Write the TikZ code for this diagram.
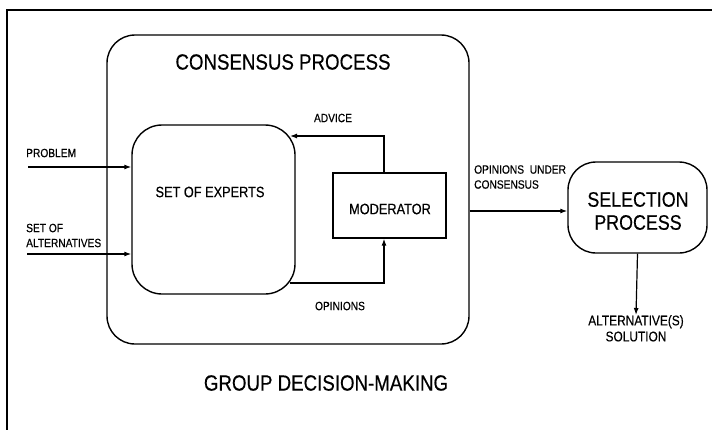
\documentclass[tikz,border=0pt]{standalone}
\usepackage{fontspec}
\setmainfont{Liberation Sans}[FakeStretch=0.85, FakeBold=0.4]
\usetikzlibrary{arrows.meta}
\tikzset{
  box/.style={draw, line width=1.4pt, inner sep=0pt},
  roundbox/.style={box, rounded corners=#1},
  arr/.style={line width=1.2pt, -{Latex[length=7pt,width=5pt]}},
  small/.style={font=\fontsize{12}{15}\selectfont, inner sep=0pt},
  mid/.style={font=\fontsize{15}{18}\selectfont, inner sep=0pt},
  big/.style={font=\fontsize{22}{25}\selectfont, inner sep=0pt},
}
\begin{document}
\begin{tikzpicture}[x=1pt, y=-1pt]
  \useasboundingbox (0,0) rectangle (712,432);

  % outer frame (top and left edges)
  \coordinate (ftr) at (712,10);
  \coordinate (ftl) at (7,10);
  \coordinate (fbl) at (7,430);
  \draw[line width=1.4pt] (ftr) -- (ftl) -- (fbl);

  % main boxes
  \node[roundbox=28pt, minimum width=362pt, minimum height=309pt] (consensus) at (288,189.5) {};
  \node[roundbox=30pt, minimum width=163pt, minimum height=169pt] (experts) at (213.5,209.5) {};
  \node[box, minimum width=113pt, minimum height=65pt] (moderator) at (389.5,205.5) {};
  \node[roundbox=28pt, minimum width=139pt, minimum height=91pt] (selection) at (637.5,207.5) {};

  % titles and labels
  \node[big] (ctitle) at (283,62) {CONSENSUS PROCESS};
  \node[big] (gtitle) at (326,383) {GROUP DECISION-MAKING};
  \node[mid] (elabel) at (210,192) {SET OF EXPERTS};
  \node[mid] (mlabel) at (390,209) {MODERATOR};
  \node[font=\fontsize{21}{23}\selectfont, inner sep=0pt, align=center] (slabel) at (638,211) {SELECTION\\PROCESS};
  \node[small, anchor=west] (problem) at (26,153) {PROBLEM};
  \node[small, anchor=west, align=left] (alts) at (26,235.5) {SET OF\\ALTERNATIVES};
  \node[small] (advice) at (333,118) {ADVICE};
  \node[small] (opinions) at (340,306) {OPINIONS};
  \node[small, anchor=west, align=left] (under) at (474,177) {OPINIONS\ \ UNDER\\CONSENSUS};
  \node[font=\fontsize{14}{16}\selectfont, inner sep=0pt, align=center, anchor=north] (solution) at (636,315) {ALTERNATIVE(S)\\SOLUTION};

  % helper points for the connectors
  \coordinate (pin) at (28,167);
  \coordinate (ain) at (27,254);
  \coordinate (modx) at (384,0);
  \coordinate (advtip) at (290,136);
  \coordinate (opstart) at (290,283);

  % inputs
  \draw[arr] (pin) -- (pin -| experts.west);
  \draw[arr] (ain) -- (ain -| experts.west);

  % feedback loop between experts and moderator
  \draw[arr] (moderator.north -| modx) |- (advtip);
  \draw[arr] (opstart) -| (moderator.south -| modx);

  % output of the consensus process
  \draw[arr] ([yshift=-3.5pt]consensus.east |- selection.west) -- ([yshift=-3.5pt]selection.west);
  \draw[arr] (selection.south) -- (solution.north);
\end{tikzpicture}
\end{document}
